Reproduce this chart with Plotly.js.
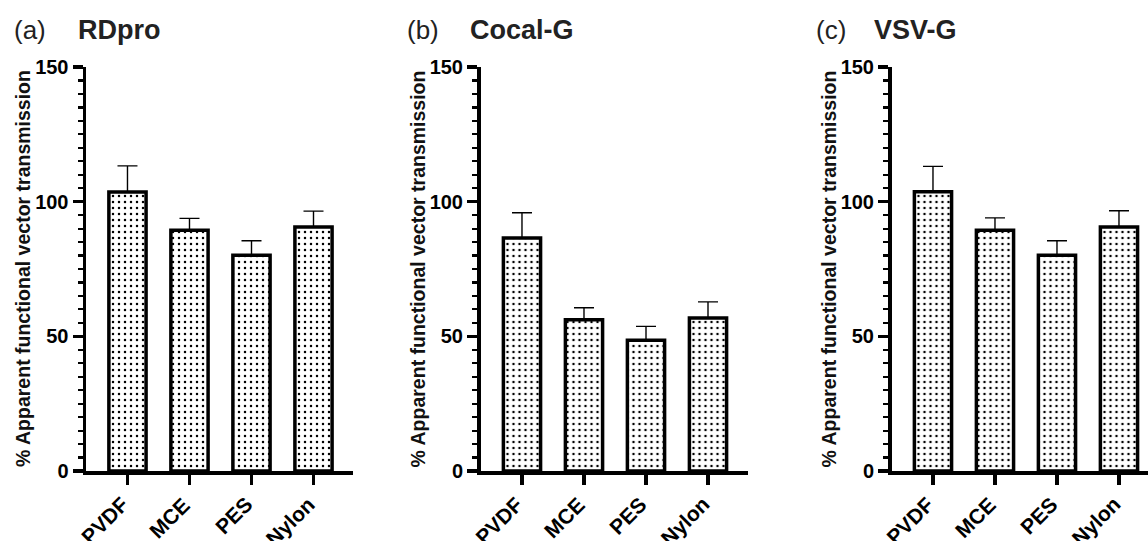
<!DOCTYPE html>
<html>
<head>
<meta charset="utf-8">
<script src="https://cdn.plot.ly/plotly-3.0.1.min.js"></script>
<style>html,body{margin:0;padding:0;background:#fff;}#chart{width:1148px;height:541px;}</style>
</head>
<body>
<div id="chart"></div>
<script>
// Data
const categories = ["PVDF", "MCE", "PES", "Nylon"];
const rdproValues = [103.6, 89.4, 80.1, 90.6];
const rdproErrors = [9.7, 4.4, 5.4, 5.9];
const cocalValues = [86.5, 56.2, 48.5, 56.8];
const cocalErrors = [9.4, 4.4, 5.2, 6.0];
const vsvValues = [103.7, 89.4, 80.1, 90.6];
const vsvErrors = [9.4, 4.6, 5.4, 6.0];
const yTickVals = [0, 50, 100, 150];
const panelLetters = ["(a)", "(b)", "(c)"];
const panelNames = ["RDpro", "Cocal-G", "VSV-G"];
const yTitle = "% Apparent functional vector transmission";

const FONT = '"Liberation Sans", Arial, sans-serif';
const W = 1148, H = 541;

function barTrace(vals, errs, xa, ya) {
  return {
    type: 'bar',
    x: categories,
    y: vals,
    xaxis: xa,
    yaxis: ya,
    width: 0.6,
    marker: {
      color: 'white',
      line: {color: 'black', width: 3.5},
      pattern: {shape: '.', size: 6, solidity: 0.14, fgcolor: 'black', bgcolor: 'white', fillmode: 'replace'}
    },
    error_y: {type: 'data', symmetric: false, array: errs, arrayminus: errs.map(() => 0),
              color: 'black', thickness: 1.4, width: 10},
    showlegend: false,
    hoverinfo: 'x+y'
  };
}

const traces = [
  barTrace(rdproValues, rdproErrors, 'x', 'y'),
  barTrace(cocalValues, cocalErrors, 'x2', 'y2'),
  barTrace(vsvValues, vsvErrors, 'x3', 'y3')
];

function xAxis(domL, domR, range, anchor) {
  return {
    domain: [domL / W, domR / W],
    range: range,
    anchor: anchor,
    type: 'category',
    showline: true, linewidth: 3.5, linecolor: 'black',
    ticks: 'outside', ticklen: 10, tickwidth: 3.5, tickcolor: 'black',
    showticklabels: false,
    showgrid: false, zeroline: false, fixedrange: true
  };
}
function yAxis(bot, top, anchor) {
  return {
    domain: [1 - bot / H, 1 - top / H],
    range: [0, 150],
    anchor: anchor,
    tickvals: yTickVals,
    ticktext: yTickVals.map(String),
    showline: true, linewidth: 3.5, linecolor: 'black',
    ticks: 'outside', ticklen: 10, tickwidth: 3.5, tickcolor: 'black',
    minor: {dtick: 5, tick0: 0, ticks: 'outside', ticklen: 5, tickwidth: 2.2, tickcolor: 'black', showgrid: false},
    tickfont: {family: FONT, size: 20, color: 'black', weight: 'bold'},
    showgrid: false, zeroline: false, fixedrange: true
  };
}

const titleX = [[12, 76], [405, 468], [814, 872]];
const yTitleX = [23, 417.5, 828.5];
const xRefs = ['x', 'x2', 'x3'];
const annotations = [];
for (let i = 0; i < 3; i++) {
  annotations.push({
    text: panelLetters[i], xref: 'paper', yref: 'paper',
    x: titleX[i][0] / W, y: 1 - 30 / H, xanchor: 'left', yanchor: 'middle', showarrow: false,
    font: {family: FONT, size: 26, color: '#222'}
  });
  annotations.push({
    text: '<b>' + panelNames[i] + '</b>', xref: 'paper', yref: 'paper',
    x: titleX[i][1] / W, y: 1 - 30 / H, xanchor: 'left', yanchor: 'middle', showarrow: false,
    font: {family: FONT, size: 27, color: '#222'}
  });
  annotations.push({
    text: '<b>' + yTitle + '</b>', xref: 'paper', yref: 'paper',
    x: yTitleX[i] / W, y: 1 - 269 / H, xanchor: 'center', yanchor: 'middle', showarrow: false,
    textangle: -90,
    font: {family: FONT, size: 19.5, color: '#111'}
  });
  // rotated category labels
  categories.forEach(function (c) {
    annotations.push({
      text: '<b>' + c + '</b>', xref: xRefs[i], yref: 'paper',
      x: c, y: 1 - 490 / H, xanchor: 'right', yanchor: 'top', xshift: 8,
      textangle: -45, showarrow: false,
      font: {family: FONT, size: 21, color: 'black'}
    });
  });
}

const layout = {
  width: W, height: H,
  margin: {l: 0, r: 0, t: 0, b: 0},
  paper_bgcolor: 'white', plot_bgcolor: 'white',
  font: {family: FONT, color: 'black'},
  xaxis: xAxis(86, 353, [-0.669, 3.637], 'y'),
  yaxis: yAxis(471, 67, 'x'),
  xaxis2: xAxis(480.5, 747.5, [-0.669, 3.637], 'y2'),
  yaxis2: yAxis(471, 67, 'x2'),
  xaxis3: xAxis(891.5, 1148, [-0.669, 3.468], 'y3'),
  yaxis3: yAxis(471, 67, 'x3'),
  annotations: annotations
};

Plotly.newPlot('chart', traces, layout, {displayModeBar: false, staticPlot: true});
</script>
</body>
</html>
